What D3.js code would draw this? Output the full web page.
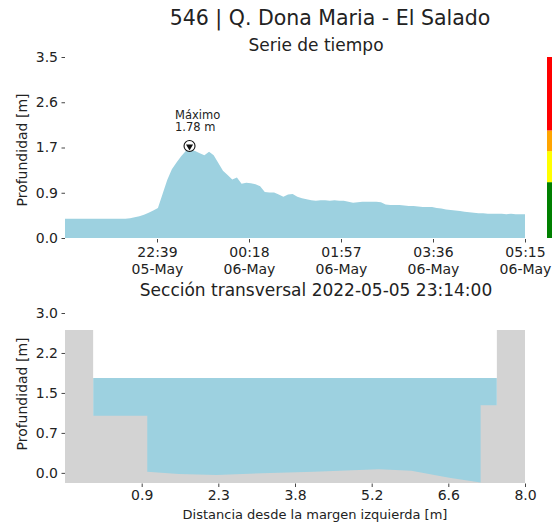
<!DOCTYPE html>
<html><head><meta charset="utf-8">
<script src="https://cdn.jsdelivr.net/npm/d3@7"></script>
<style>
body{margin:0;background:#fff;}
svg text{font-family:"DejaVu Sans",sans-serif;fill:#222;}
</style></head>
<body><svg id="c" width="552" height="525"></svg>
<script>
// ---------- data ----------
const stationTitle = "546 | Q. Dona Maria - El Salado";
const seriesTitle = "Serie de tiempo";
const sectionTitle = "Sección transversal 2022-05-05 23:14:00";
const seriesStart = "2022-05-05T21:00:00";
const seriesStepMin = 5;
const depth = [
0.37,0.37,0.37,0.37,0.37,0.37,0.37,0.37,0.37,0.37,
0.37,0.37,0.37,0.37,0.38,0.40,0.42,0.45,0.49,0.53,
0.58,0.85,1.12,1.33,1.46,1.58,1.68,1.70,1.68,1.64,
1.60,1.67,1.60,1.45,1.30,1.22,1.13,1.17,1.05,1.07,
1.06,1.04,1.00,0.89,0.88,0.88,0.84,0.80,0.84,0.85,
0.80,0.77,0.75,0.73,0.72,0.73,0.73,0.72,0.73,0.72,
0.72,0.70,0.68,0.69,0.70,0.70,0.70,0.70,0.69,0.65,
0.64,0.64,0.64,0.63,0.62,0.62,0.61,0.60,0.60,0.60,
0.58,0.57,0.55,0.54,0.53,0.52,0.51,0.50,0.49,0.48,
0.48,0.47,0.47,0.47,0.47,0.46,0.47,0.46,0.46,0.46];
const maxTime = "2022-05-05T23:14:00";
const maxValue = 1.78;
const timeTicks = ["2022-05-05T22:39:00","2022-05-06T00:18:00","2022-05-06T01:57:00","2022-05-06T03:36:00","2022-05-06T05:15:00"];
const depthTicks = [0, 0.875, 1.75, 2.625, 3.5];
const depthTickLabels = ["0.0","0.9","1.7","2.6","3.5"];
const alertLevels = [0, 1.08, 1.68, 2.08, 3.5];
const alertColors = ["#008000","#ffff00","#ffa500","#ff0000"];

const bedX = [-0.5, 0.02, 0.02, 1.02, 1.02, 1.6, 2.3, 3.3, 4.1, 5.3, 5.9, 6.6, 7.18, 7.18, 7.48, 7.48, 8.0];
const bedZ = [2.68, 2.68, 1.07, 1.07, 0.02, -0.02, -0.04, 0.0, 0.02, 0.07, 0.04, -0.09, -0.18, 1.27, 1.27, 2.68, 2.68];
const waterLevel = 1.78;
const waterX = [0.02, 7.48];
const distTicks = [0.917, 2.333, 3.75, 5.167, 6.583, 8.0];
const distTickLabels = ["0.9","2.3","3.8","5.2","6.6","8.0"];
const secTicks = [0, 0.75, 1.5, 2.25, 3.0];
const secTickLabels = ["0.0","0.7","1.5","2.2","3.0"];

// ---------- drawing ----------
const svg = d3.select("#c");
const parse = d3.isoParse;
const t0 = parse(seriesStart);
const series = depth.map((v,i)=>({t:new Date(t0.getTime()+i*seriesStepMin*60000), v}));

const fillBlue = "#9dd1e0";
const gray = "#d3d3d3";

svg.append("text").attr("x",330).attr("y",25).attr("text-anchor","middle")
  .style("font-size","20.5px").text(stationTitle);
svg.append("text").attr("x",316).attr("y",51).attr("text-anchor","middle")
  .style("font-size","17px").text(seriesTitle);

// top chart
const x1 = d3.scaleTime().domain([series[0].t, series[series.length-1].t]).range([65,525]);
const y1 = d3.scaleLinear().domain([0,3.5]).range([238,57]);

svg.append("path").datum(series)
  .attr("d", d3.area().x(d=>x1(d.t)).y0(y1(0)).y1(d=>y1(d.v)))
  .attr("fill", fillBlue);

const ax1 = svg.append("g").attr("transform","translate(65,0)")
  .call(d3.axisLeft(y1).tickValues(depthTicks).tickFormat((d,i)=>depthTickLabels[i]).tickSize(3.5).tickPadding(3.5));
ax1.select(".domain").remove();
ax1.selectAll("text").style("font-size","14px").attr("fill","#222");
ax1.selectAll("line").attr("stroke","#444");

const fmtT = d3.timeFormat("%H:%M"), fmtD = d3.timeFormat("%d-%b");
const ax1b = svg.append("g").attr("transform","translate(0,239)")
  .call(d3.axisBottom(x1).tickValues(timeTicks.map(parse)).tickFormat("").tickSize(3.5));
ax1b.select(".domain").remove();
ax1b.selectAll("line").attr("stroke","#444");
ax1b.selectAll(".tick").each(function(d){
  const g = d3.select(this);
  g.append("text").attr("y",18).attr("text-anchor","middle").style("font-size","14px").attr("fill","#222").text(fmtT(d));
  g.append("text").attr("y",35).attr("text-anchor","middle").style("font-size","14px").attr("fill","#222").text(fmtD(d));
});

svg.append("text").attr("transform","translate(27,150) rotate(-90)").attr("text-anchor","middle")
  .style("font-size","14px").text("Profundidad [m]");

// alert bar
const yb = svg.append("g");
for (let i=0;i<alertColors.length;i++){
  yb.append("rect").attr("x",547).attr("width",6)
    .attr("y",y1(alertLevels[i+1])).attr("height",y1(alertLevels[i])-y1(alertLevels[i+1]))
    .attr("fill",alertColors[i]);
}

// max marker
const mx = x1(parse(maxTime)), my = y1(maxValue);
svg.append("circle").attr("cx",mx).attr("cy",my).attr("r",5.5).attr("fill","#fff").attr("stroke","#111").attr("stroke-width",1.1);
svg.append("path").attr("d",d3.symbol(d3.symbolTriangle,22)()).attr("transform",`translate(${mx},${my+0.5}) rotate(180)`).attr("fill","#111");
svg.append("text").attr("x",mx-14.5).attr("y",my-27).style("font-size","11.5px").text("Máximo");
svg.append("text").attr("x",mx-14.5).attr("y",my-14.5).style("font-size","11.5px").text(maxValue.toFixed(2)+" m");

// bottom chart
svg.append("text").attr("x",316).attr("y",296).attr("text-anchor","middle")
  .style("font-size","17px").text(sectionTitle);
const x2 = d3.scaleLinear().domain([-0.5,8.0]).range([65,525]);
const y2 = d3.scaleLinear().domain([-0.19,3.0]).range([483,313]);

svg.append("rect").attr("x",x2(waterX[0])).attr("width",x2(waterX[1])-x2(waterX[0]))
  .attr("y",y2(waterLevel)).attr("height",y2(-0.19)-y2(waterLevel)).attr("fill",fillBlue);
const bed = bedX.map((x,i)=>({x, z:bedZ[i]}));
svg.append("path").datum(bed)
  .attr("d", d3.area().x(d=>x2(d.x)).y0(y2(-0.19)).y1(d=>y2(d.z)))
  .attr("fill", gray);

const ax2 = svg.append("g").attr("transform","translate(65,0)")
  .call(d3.axisLeft(y2).tickValues(secTicks).tickFormat((d,i)=>secTickLabels[i]).tickSize(3.5).tickPadding(3.5));
ax2.select(".domain").remove();
ax2.selectAll("text").style("font-size","14px").attr("fill","#222");
ax2.selectAll("line").attr("stroke","#444");
const ax2b = svg.append("g").attr("transform","translate(0,483.5)")
  .call(d3.axisBottom(x2).tickValues(distTicks).tickFormat((d,i)=>distTickLabels[i]).tickSize(3.5).tickPadding(3.5));
ax2b.select(".domain").remove();
ax2b.selectAll("text").style("font-size","14px").attr("fill","#222");
ax2b.selectAll("line").attr("stroke","#444");

svg.append("text").attr("transform","translate(27,394) rotate(-90)").attr("text-anchor","middle")
  .style("font-size","14px").text("Profundidad [m]");
svg.append("text").attr("x",315).attr("y",519).attr("text-anchor","middle")
  .style("font-size","13px").text("Distancia desde la margen izquierda [m]");
</script></body></html>
